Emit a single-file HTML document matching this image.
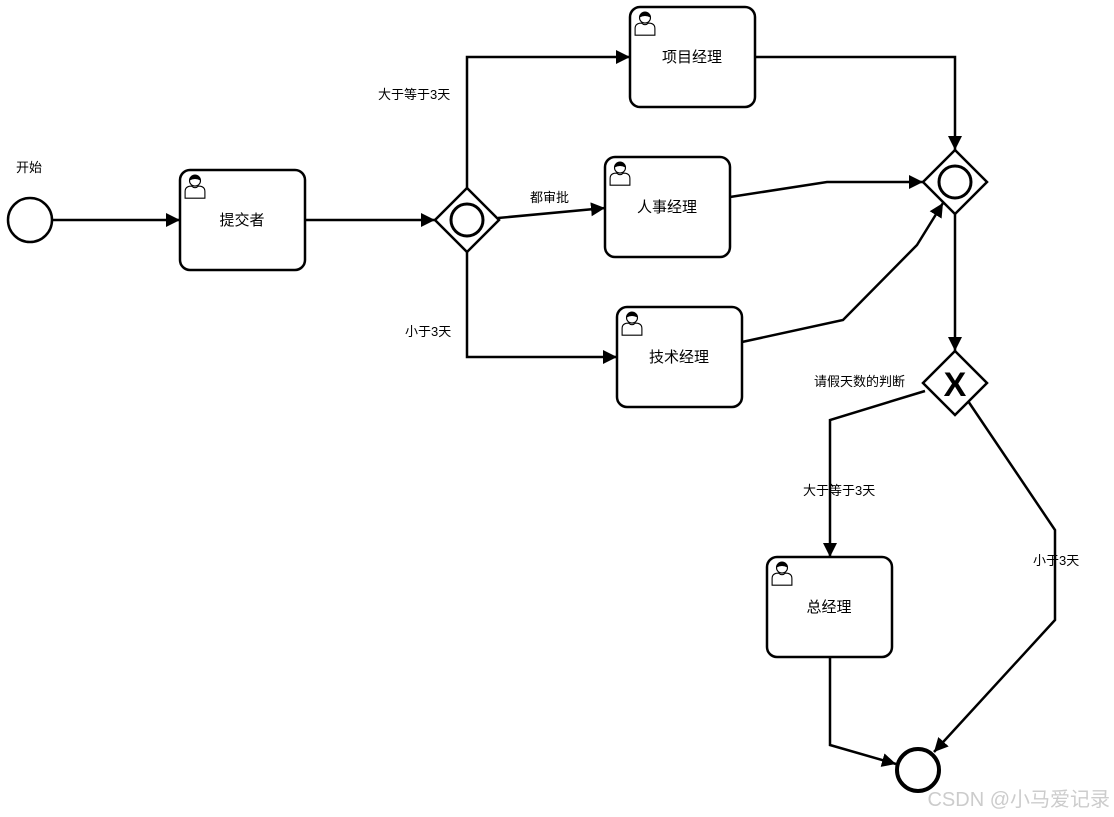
<!DOCTYPE html>
<html><head><meta charset="utf-8"><style>
html,body{margin:0;padding:0;background:#fff;}
svg{display:block;font-family:"Liberation Sans","Noto Sans CJK SC",sans-serif;}
</style></head><body>
<svg width="1114" height="817" viewBox="0 0 1114 817" xmlns="http://www.w3.org/2000/svg">
<defs>
<marker id="a" viewBox="0 0 10 10" refX="10" refY="5" markerWidth="14" markerHeight="14" markerUnits="userSpaceOnUse" orient="auto"><path d="M0,0 L10,5 L0,10 z" fill="#000"/></marker>
<g id="u" transform="scale(1.1)"><circle cx="10" cy="6" r="5" fill="#fff" stroke="#000" stroke-width="1"/><path d="M5,6 a5,5 0 0 1 10,0 q-5,-3 -10,0z" fill="#000"/><path d="M1,22 v-6 q0,-5 6,-5 q3,3 6,0 q6,0 6,5 v6 z" fill="#fff" stroke="#000" stroke-width="1"/></g>
</defs>
<g fill="none" stroke="#000" stroke-width="2.5">
<circle cx="30" cy="220" r="22"/>
<circle cx="918" cy="770" r="21" stroke-width="4"/>
<rect x="180" y="170" width="125" height="100" rx="10"/>
<rect x="630" y="7" width="125" height="100" rx="10"/>
<rect x="605" y="157" width="125" height="100" rx="10"/>
<rect x="617" y="307" width="125" height="100" rx="10"/>
<rect x="767" y="557" width="125" height="100" rx="10"/>
<path d="M467,188 L499,220 L467,252 L435,220 Z" fill="#fff"/>
<circle cx="467" cy="220" r="16" stroke-width="3"/>
<path d="M955,150 L987,182 L955,214 L923,182 Z" fill="#fff"/>
<circle cx="955" cy="182" r="16" stroke-width="3"/>
<path d="M955,351 L987,383 L955,415 L923,383 Z" fill="#fff"/>
<path d="M52,220 H180" marker-end="url(#a)"/>
<path d="M305,220 H435" marker-end="url(#a)"/>
<path d="M467,188 V57 H630" marker-end="url(#a)"/>
<path d="M498,218 L605,208" marker-end="url(#a)"/>
<path d="M467,252 V357 H617" marker-end="url(#a)"/>
<path d="M755,57 H955 V150" marker-end="url(#a)"/>
<path d="M730,197 L827,182 H923" marker-end="url(#a)"/>
<path d="M742,342 L843,320 L917,245 L943,203" marker-end="url(#a)"/>
<path d="M955,214 V351" marker-end="url(#a)"/>
<path d="M925,391 L830,420 V557" marker-end="url(#a)"/>
<path d="M830,657 V745 L896,764" marker-end="url(#a)"/>
<path d="M968,401 L1055,530 V620 L934,752" marker-end="url(#a)"/>
</g>
<text x="955" y="396" font-size="34" font-weight="bold" text-anchor="middle" font-family="Liberation Sans,sans-serif">X</text>
<use href="#u" x="184" y="174"/>
<use href="#u" x="634" y="11"/>
<use href="#u" x="609" y="161"/>
<use href="#u" x="621" y="311"/>
<use href="#u" x="771" y="561"/>
<g font-size="15" text-anchor="middle" fill="#000">
<text x="242" y="225">提交者</text>
<text x="692" y="62">项目经理</text>
<text x="667" y="212">人事经理</text>
<text x="679" y="362">技术经理</text>
<text x="829" y="612">总经理</text>
</g>
<g font-size="13" fill="#000">
<text x="16" y="172">开始</text>
<text x="378" y="99">大于等于3天</text>
<text x="530" y="202">都审批</text>
<text x="405" y="336">小于3天</text>
<text x="814" y="386">请假天数的判断</text>
<text x="803" y="495">大于等于3天</text>
<text x="1033" y="565">小于3天</text>
</g>
<text x="1110" y="806" font-size="20" fill="#ccc" text-anchor="end">CSDN @小马爱记录</text>
</svg>
</body></html>
